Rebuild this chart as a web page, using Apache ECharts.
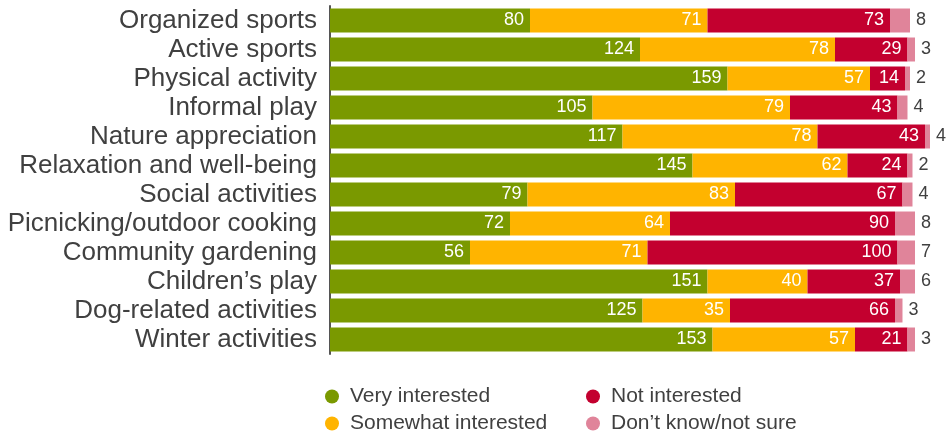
<!DOCTYPE html>
<html>
<head>
<meta charset="utf-8">
<script src="https://cdn.jsdelivr.net/npm/echarts@6/dist/echarts.min.js"></script>
<style>
  html, body { margin: 0; padding: 0; background: #fff; }
  #chart { width: 948px; height: 433px; }
</style>
</head>
<body>
<div id="chart"></div>
<script>
// activity categories, top to bottom
const categories = [
  'Organized sports', 'Active sports', 'Physical activity', 'Informal play',
  'Nature appreciation', 'Relaxation and well-being', 'Social activities',
  'Picnicking/outdoor cooking', 'Community gardening', 'Children\u2019s play',
  'Dog-related activities', 'Winter activities'
]
const veryInterested = [80, 124, 159, 105, 117, 145, 79, 72, 56, 151, 125, 153]
const somewhatInterested = [71, 78, 57, 79, 78, 62, 83, 64, 71, 40, 35, 57]
const notInterested = [73, 29, 14, 43, 43, 24, 67, 90, 100, 37, 66, 21]
const dontKnow = [8, 3, 2, 4, 4, 2, 4, 8, 7, 6, 3, 3]

const font = 'Liberation Sans, Arial, sans-serif'
const textColor = '#404040'

const insideLabel = {
  show: true,
  position: 'insideRight',
  distance: 6,
  color: '#fff',
  fontSize: 18,
  fontFamily: font
}

function bar(name, data, color, label) {
  return {
    name: name,
    type: 'bar',
    stack: 'total',
    barWidth: 24,
    data: data,
    itemStyle: { color: color },
    label: label,
    emphasis: { disabled: true }
  }
}

// one legend per entry, laid out 2x2 like the original
function legendItem(name, left, top) {
  return {
    left: left,
    top: top,
    icon: 'circle',
    itemWidth: 14,
    itemHeight: 14,
    textStyle: { color: textColor, fontSize: 21, fontFamily: font, padding: [0, 0, 0, 6] },
    data: [name]
  }
}

const chart = echarts.init(document.getElementById('chart'))
chart.setOption({
  animation: false,
  textStyle: { fontFamily: font },
  grid: { left: 330, top: 6, width: 600, height: 348 },
  xAxis: {
    type: 'value',
    min: 0,
    max: 240,
    show: false
  },
  yAxis: {
    type: 'category',
    data: categories,
    inverse: true,
    axisTick: { show: false },
    axisLine: { lineStyle: { color: '#555', width: 2 } },
    axisLabel: { interval: 0, color: textColor, fontSize: 26, fontFamily: font, margin: 13 }
  },
  legend: [
    legendItem('Very interested', 320, 381),
    legendItem('Somewhat interested', 320, 408),
    legendItem('Not interested', 581, 381),
    legendItem('Don\u2019t know/not sure', 581, 408)
  ],
  series: [
    bar('Very interested', veryInterested, '#7a9900', insideLabel),
    bar('Somewhat interested', somewhatInterested, '#ffb400', insideLabel),
    bar('Not interested', notInterested, '#c3002f', insideLabel),
    bar('Don\u2019t know/not sure', dontKnow, '#e0849a', {
      show: true,
      position: 'right',
      distance: 6,
      color: textColor,
      fontSize: 18,
      fontFamily: font
    })
  ]
})
</script>
</body>
</html>
